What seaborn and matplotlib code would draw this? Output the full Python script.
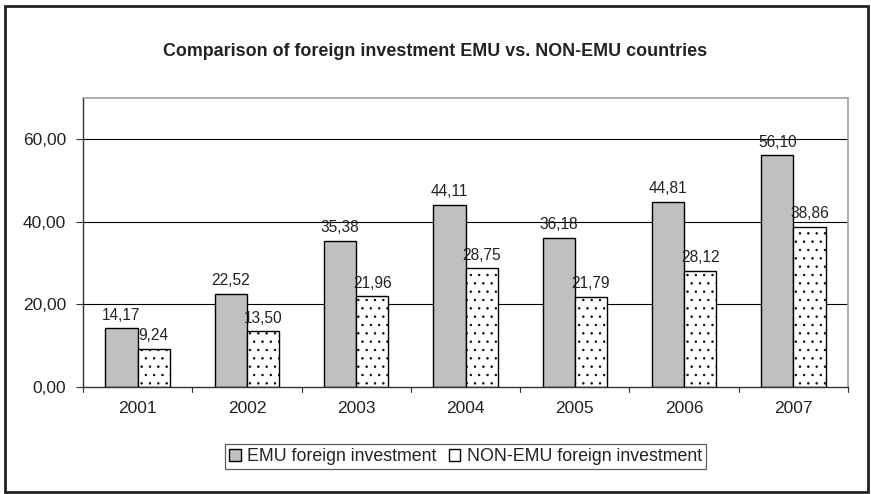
import numpy as np
import pandas as pd
import matplotlib.pyplot as plt
import matplotlib
import seaborn as sns
from matplotlib.patches import Rectangle

years = ["2001", "2002", "2003", "2004", "2005", "2006", "2007"]
emu = [14.17, 22.52, 35.38, 44.11, 36.18, 44.81, 56.10]
non_emu = [9.24, 13.50, 21.96, 28.75, 21.79, 28.12, 38.86]
series = ["EMU foreign investment", "NON-EMU foreign investment"]

sns.set_style("white")
plt.rcParams["font.family"] = ["Liberation Sans", "DejaVu Sans"]
matplotlib.rcParams["hatch.linewidth"] = 0.5

df = pd.DataFrame({
    "Year": years * 2,
    "Value": emu + non_emu,
    "Series": [series[0]] * len(years) + [series[1]] * len(years),
})

fig = plt.figure(figsize=(8.71, 4.94), dpi=100)
ax = fig.add_axes([0.0953, 0.2166, 0.8783, 0.585])

sns.barplot(data=df, x="Year", y="Value", hue="Series", ax=ax,
            palette=["#c0c0c0", "white"], width=0.59,
            edgecolor="black", linewidth=1.0, saturation=1)

# dotted pattern on NON-EMU bars
n = len(years)
for i, bar in enumerate(ax.patches[:2 * n]):
    if i >= n:
        bar.set_hatch("..")

for cont in ax.containers:
    labels = [f"{v:.2f}".replace(".", ",") for v in cont.datavalues]
    ax.bar_label(cont, labels=labels, padding=4, fontsize=11.2, color="#222222")

ax.set_ylim(0, 70)
ax.set_xlim(-0.5, n - 0.5)
ax.set_yticks([0, 20, 40, 60])
ax.set_yticklabels(["0,00", "20,00", "40,00", "60,00"], fontsize=12.5,
                   color="#222222")
ax.set_xticks(range(n))
ax.set_xticklabels(years, fontsize=12.5, color="#222222")
ax.tick_params(axis="x", length=0, pad=10)
ax.tick_params(axis="y", left=True, length=5, width=0.8, color="#333333", pad=7)
for b in np.arange(-0.5, n, 1.0):
    ax.plot([b, b], [0, -1.3], color="#333333", lw=0.8, clip_on=False)

for y in [20, 40, 60]:
    ax.axhline(y, color="black", lw=0.8, zorder=0)

ax.set_xlabel("")
ax.set_ylabel("")
for side in ["top", "right"]:
    ax.spines[side].set_color("#a0a0a0")
    ax.spines[side].set_linewidth(1.2)
for side in ["left", "bottom"]:
    ax.spines[side].set_color("#333333")
    ax.spines[side].set_linewidth(1.0)

leg = ax.legend(loc="upper center", bbox_to_anchor=(0.5, -0.165), ncol=2,
                frameon=True, fancybox=False, fontsize=12.8,
                handlelength=0.65, handleheight=0.65, handletextpad=0.35,
                columnspacing=0.7, borderpad=0.25, edgecolor="#333333")
leg.get_frame().set_linewidth(0.9)
for t in leg.get_texts():
    t.set_color("#222222")
leg.legend_handles[1].set_hatch("")

fig.text(0.5, 0.896, "Comparison of foreign investment EMU vs. NON-EMU countries",
         ha="center", va="center", fontsize=12.9, fontweight="bold",
         color="#222222")

fig.patches.append(Rectangle((0.006, 0.004), 0.99, 0.984, transform=fig.transFigure,
                             fill=False, edgecolor="#222222", lw=2.0))

fig.savefig("out.png", dpi=100)
